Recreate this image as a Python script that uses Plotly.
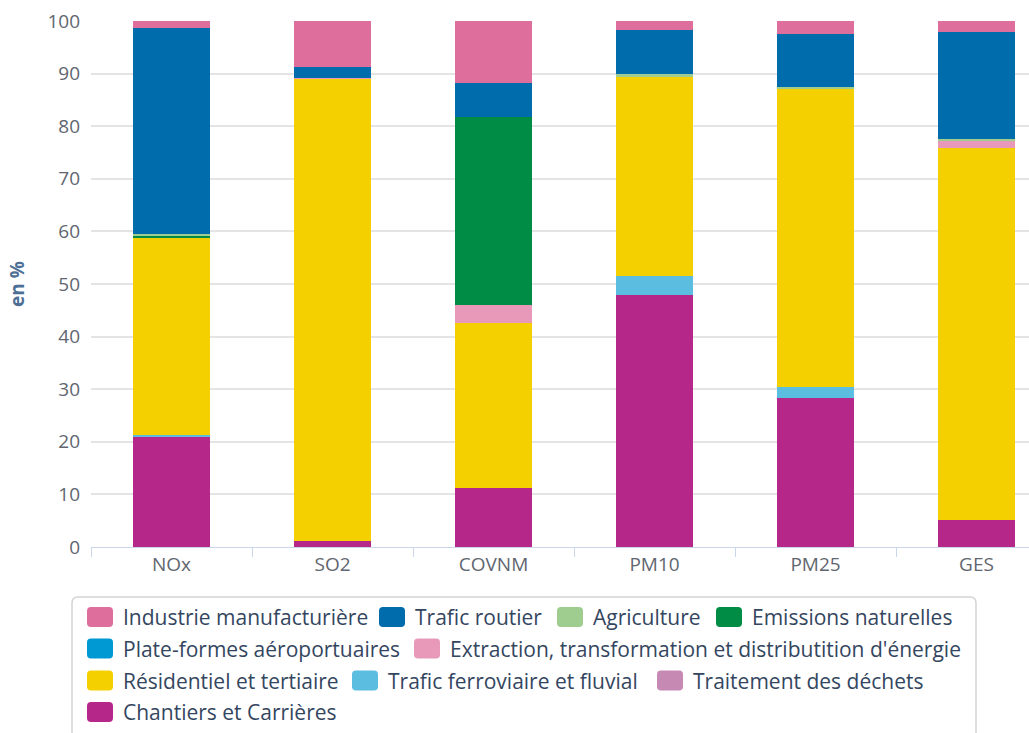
import plotly.graph_objects as go

# Emission shares by pollutant and sector (in %)
categories = ["NOx", "SO2", "COVNM", "PM10", "PM25", "GES"]

industrie = [1.4, 8.7, 11.7, 1.8, 2.4, 2.0]
trafic_routier = [39.0, 2.1, 6.5, 8.2, 10.2, 20.5]
agriculture = [0.45, 0.0, 0.0, 0.6, 0.2, 0.4]
emissions_naturelles = [0.4, 0.0, 35.7, 0.0, 0.0, 0.0]
plateformes = [0.0, 0.0, 0.0, 0.0, 0.0, 0.0]
extraction = [0.0, 0.1, 3.6, 0.0, 0.0, 1.2]
residentiel = [37.45, 87.9, 31.3, 37.9, 56.7, 70.8]
ferroviaire = [0.3, 0.0, 0.0, 3.5, 2.1, 0.0]
dechets = [0.0, 0.0, 0.0, 0.0, 0.0, 0.0]
chantiers = [21.0, 1.2, 11.2, 48.0, 28.4, 5.1]

y_ticks = [0, 10, 20, 30, 40, 50, 60, 70, 80, 90, 100]

# Series listed from the top of each stack down to the bottom
series = [
    ("Industrie manufacturière", industrie, "#de6e9c"),
    ("Trafic routier", trafic_routier, "#006cab"),
    ("Agriculture", agriculture, "#9fcd8f"),
    ("Emissions naturelles", emissions_naturelles, "#008c45"),
    ("Plate-formes aéroportuaires", plateformes, "#0099d4"),
    ("Extraction, transformation et distributition d'énergie", extraction, "#e899b9"),
    ("Résidentiel et tertiaire", residentiel, "#f5d000"),
    ("Trafic ferroviaire et fluvial", ferroviaire, "#5bbde0"),
    ("Traitement des déchets", dechets, "#c689b4"),
    ("Chantiers et Carrières", chantiers, "#b5288a"),
]

# Page geometry (pixels)
W, H = 1029, 733
PLOT_L, PLOT_R, PLOT_T, PLOT_B = 91, 1029, 21, 547


def px_x(x):
    return (x - PLOT_L) / (PLOT_R - PLOT_L)


def px_y(y):
    return (PLOT_B - y) / (PLOT_B - PLOT_T)


def rounded_rect(x0, y0, x1, y1, r):
    # SVG path in paper coordinates for a rectangle with rounded corners
    X0, X1 = px_x(x0), px_x(x1)
    Y0, Y1 = px_y(y0), px_y(y1)
    rx = r / (PLOT_R - PLOT_L)
    ry = r / (PLOT_B - PLOT_T)
    return (
        f"M{X0 + rx},{Y0} L{X1 - rx},{Y0} Q{X1},{Y0} {X1},{Y0 - ry} "
        f"L{X1},{Y1 + ry} Q{X1},{Y1} {X1 - rx},{Y1} L{X0 + rx},{Y1} "
        f"Q{X0},{Y1} {X0},{Y1 + ry} L{X0},{Y0 - ry} Q{X0},{Y0} {X0 + rx},{Y0} Z"
    )


fig = go.Figure()
# Plotly stacks in trace order, so add bottom series first
for name, values, color in reversed(series):
    fig.add_trace(go.Bar(
        x=categories,
        y=values,
        name=name,
        marker=dict(color=color, line=dict(width=0)),
        width=0.48,
        showlegend=False,
    ))

# Legend drawn as a flowing box below the chart
legend_rows = [617, 648.5, 680.5, 712]
legend_slots = [  # (row, left edge of swatch in px)
    (0, 87), (0, 379), (0, 557), (0, 716),
    (1, 87), (1, 414),
    (2, 87), (2, 352), (2, 657),
    (3, 87),
]

shapes = [dict(
    type="path",
    xref="paper", yref="paper",
    path=rounded_rect(72, 597, 976, 760, 6),
    line=dict(color="#d4d4d4", width=1.5),
    fillcolor="white",
    layer="below",
)]
annotations = []
for (name, _, color), (row, sx) in zip(series, legend_slots):
    cy = legend_rows[row]
    shapes.append(dict(
        type="path",
        xref="paper", yref="paper",
        path=rounded_rect(sx, cy - 10, sx + 26, cy + 10, 4),
        line=dict(width=0),
        fillcolor=color,
    ))
    annotations.append(dict(
        xref="paper", yref="paper",
        x=px_x(sx + 34), y=px_y(cy),
        xanchor="left", yanchor="middle",
        text=name,
        showarrow=False,
        font=dict(family="Open Sans, sans-serif", size=21, color="#34465f"),
    ))

# Y axis title
annotations.append(dict(
    xref="paper", yref="paper",
    x=px_x(17), y=px_y(284),
    xanchor="center", yanchor="middle",
    text="<b>en %</b>",
    textangle=-90,
    showarrow=False,
    font=dict(family="Open Sans, sans-serif", size=19, color="#4d6f96"),
))

fig.update_layout(
    width=W,
    height=H,
    barmode="stack",
    paper_bgcolor="white",
    plot_bgcolor="white",
    margin=dict(l=PLOT_L, r=W - PLOT_R, t=PLOT_T, b=H - PLOT_B),
    font=dict(family="Open Sans, sans-serif", color="#666666", size=19),
    showlegend=False,
    shapes=shapes,
    annotations=annotations,
)

fig.update_xaxes(
    type="category",
    range=[-0.5, 5.326],
    tickson="boundaries",
    ticks="outside",
    ticklen=9,
    tickcolor="#ccd6eb",
    showline=True,
    linecolor="#ccd6eb",
    linewidth=1,
    showgrid=False,
    tickfont=dict(size=19, color="#5f6670"),
)

fig.update_yaxes(
    range=[0, 100],
    tickvals=y_ticks,
    showgrid=True,
    gridcolor="#e4e4e4",
    gridwidth=1.5,
    zeroline=False,
    showline=False,
    ticks="",
    ticklabelstandoff=10,
    tickfont=dict(size=19, color="#5f6670"),
)

fig.write_html("out.html")
